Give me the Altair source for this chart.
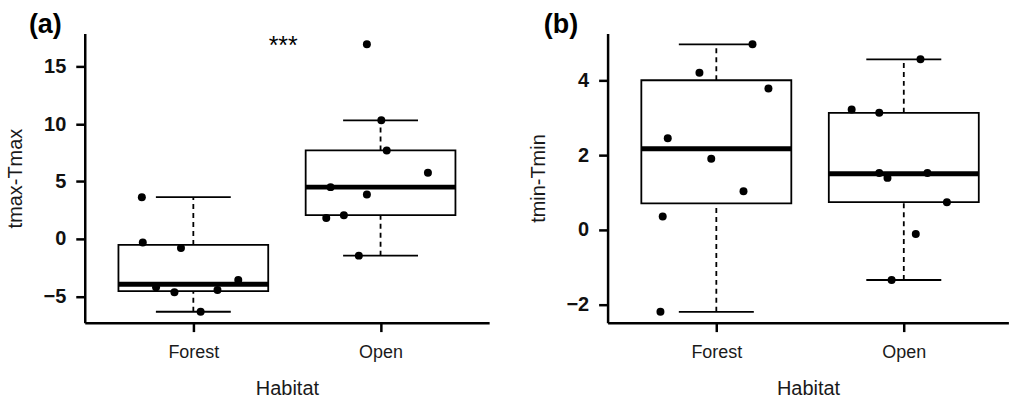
import altair as alt
import pandas as pd

FONT = "Liberation Sans"

categories = ["Forest", "Open"]

# Panel (a): tmax - Tmax
tmax_forest = [3.63, -0.32, -0.79, -4.22, -4.66, -4.45, -3.58, -6.35]
tmax_forest_jit = [-0.275, -0.27, -0.066, -0.199, -0.101, 0.129, 0.24, 0.039]
tmax_open = [16.97, 10.33, 7.71, 5.76, 4.51, 3.87, 1.82, 2.05, -1.46]
tmax_open_jit = [-0.073, 0.004, 0.033, 0.253, -0.267, -0.073, -0.29, -0.196, -0.116]
# box stats: low whisker, lower hinge, median, upper hinge, high whisker
tmax_stats_forest = [-6.35, -4.56, -3.95, -0.53, 3.63]
tmax_stats_open = [-1.46, 2.07, 4.51, 7.71, 10.33]

# Panel (b): tmin - Tmin
tmin_forest = [4.96, 4.20, 3.78, 2.45, 1.90, 1.03, 0.36, -2.19]
tmin_forest_jit = [0.193, -0.09, 0.278, -0.259, -0.027, 0.145, -0.286, -0.298]
tmin_open = [4.56, 3.22, 3.13, 1.52, 1.39, 1.52, 0.74, -0.11, -1.34]
tmin_open_jit = [0.089, -0.278, -0.131, -0.131, -0.087, 0.126, 0.23, 0.064, -0.065]
tmin_stats_forest = [-2.19, 0.71, 2.17, 4.0, 4.96]
tmin_stats_open = [-1.34, 0.74, 1.50, 3.13, 4.56]

signif_label = ["***"]
signif_pos = [1.48, 16.1]

BOX_HALF = 0.4
CAP_HALF = 0.2

label_expr = " : ".join(
    [f"datum.value == {i + 1} ? '{c}'" for i, c in enumerate(categories)]
) + " : ''"


def make_panel(vals, jits, stats, ytitle, ydomain, yticks, xdomain, tag, tag_dx):
    pts = []
    for ci, (v_list, j_list) in enumerate(zip(vals, jits)):
        for v, j in zip(v_list, j_list):
            pts.append({"x": ci + 1 + j, "y": v})
    pts = pd.DataFrame(pts)
    rows = []
    for ci, st in enumerate(stats):
        pos = ci + 1
        rows.append({
            "pos": pos, "xl": pos - BOX_HALF, "xr": pos + BOX_HALF,
            "cl": pos - CAP_HALF, "cr": pos + CAP_HALF,
            "lo": st[0], "q1": st[1], "med": st[2], "q3": st[3], "hi": st[4],
        })
    bx = pd.DataFrame(rows)

    xscale = alt.Scale(domain=xdomain, nice=False, zero=False)
    yscale = alt.Scale(domain=ydomain, nice=False, zero=False)
    xaxis = alt.Axis(values=[1, 2], labelExpr=label_expr, title="Habitat")
    yaxis = alt.Axis(values=yticks, title=ytitle, labelFontWeight="bold")

    base = alt.Chart(bx)
    box = base.mark_rect(fill="white", stroke="black", strokeWidth=1.8).encode(
        x=alt.X("xl:Q", scale=xscale, axis=xaxis), x2="xr:Q",
        y=alt.Y("q1:Q", scale=yscale, axis=yaxis), y2="q3:Q")
    wh_up = base.mark_rule(color="black", strokeWidth=1.8, strokeDash=[5, 4]).encode(
        x="pos:Q", y="q3:Q", y2="hi:Q")
    wh_lo = base.mark_rule(color="black", strokeWidth=1.8, strokeDash=[5, 4]).encode(
        x="pos:Q", y="lo:Q", y2="q1:Q")
    cap_hi = base.mark_rule(color="black", strokeWidth=1.8).encode(
        x="cl:Q", x2="cr:Q", y="hi:Q")
    cap_lo = base.mark_rule(color="black", strokeWidth=1.8).encode(
        x="cl:Q", x2="cr:Q", y="lo:Q")
    med = base.mark_rule(color="black", strokeWidth=5).encode(
        x="xl:Q", x2="xr:Q", y="med:Q")
    points = alt.Chart(pts).mark_circle(size=64, color="black", opacity=1).encode(
        x="x:Q", y="y:Q")
    tag_df = pd.DataFrame({"t": [tag]})
    tag_txt = alt.Chart(tag_df).mark_text(
        fontSize=27, fontWeight="bold", font=FONT, color="black", align="left",
        baseline="alphabetic").encode(
        x=alt.value(tag_dx), y=alt.value(0), text="t:N")
    layers = [box, wh_up, wh_lo, cap_hi, cap_lo, med, points, tag_txt]
    return layers


layers_a = make_panel([tmax_forest, tmax_open], [tmax_forest_jit, tmax_open_jit],
                      [tmax_stats_forest, tmax_stats_open], "tmax-Tmax",
                      [-7.3, 17.9], [-5, 0, 5, 10, 15], [0.42, 2.58], "(a)", -56)
ann = pd.DataFrame({"x": [signif_pos[0]], "y": [signif_pos[1]], "t": signif_label})
stars = alt.Chart(ann).mark_text(fontSize=25, font=FONT, color="black",
                                 baseline="alphabetic").encode(x="x:Q", y="y:Q", text="t:N")
layers_a.append(stars)
panel_a = alt.layer(*layers_a).properties(width=405.6, height=290)

layers_b = make_panel([tmin_forest, tmin_open], [tmin_forest_jit, tmin_open_jit],
                      [tmin_stats_forest, tmin_stats_open], "tmin-Tmin",
                      [-2.48, 5.25], [-2, 0, 2, 4], [0.42, 2.558], "(b)", -64)
panel_b = alt.layer(*layers_b).properties(width=402, height=290)

chart = (
    alt.hconcat(panel_a, panel_b, spacing=118.4, bounds="flush")
    .configure_view(stroke=None)
    .configure_axis(grid=False, domainColor="black", domainWidth=2.5,
                    tickColor="black", tickWidth=2.5, tickSize=9,
                    labelFont=FONT, titleFont=FONT, titleFontWeight="normal",
                    titleFontSize=20, titleColor="#1a1a1a")
    .configure_axisX(labelFontSize=18, labelColor="#1a1a1a", labelBaseline="alphabetic",
                     labelPadding=26, titleBaseline="alphabetic", titleY=72)
    .configure_axisY(labelFontSize=20, labelFontWeight="bold", labelColor="#111",
                     labelPadding=10, titleAngle=270, titleBaseline="alphabetic",
                     titleX=-63)
    .properties(padding={"left": 6, "top": 11, "right": 0, "bottom": 0},
                background="white")
)

chart.save("out.html", embed_options={"renderer": "svg", "actions": False})
